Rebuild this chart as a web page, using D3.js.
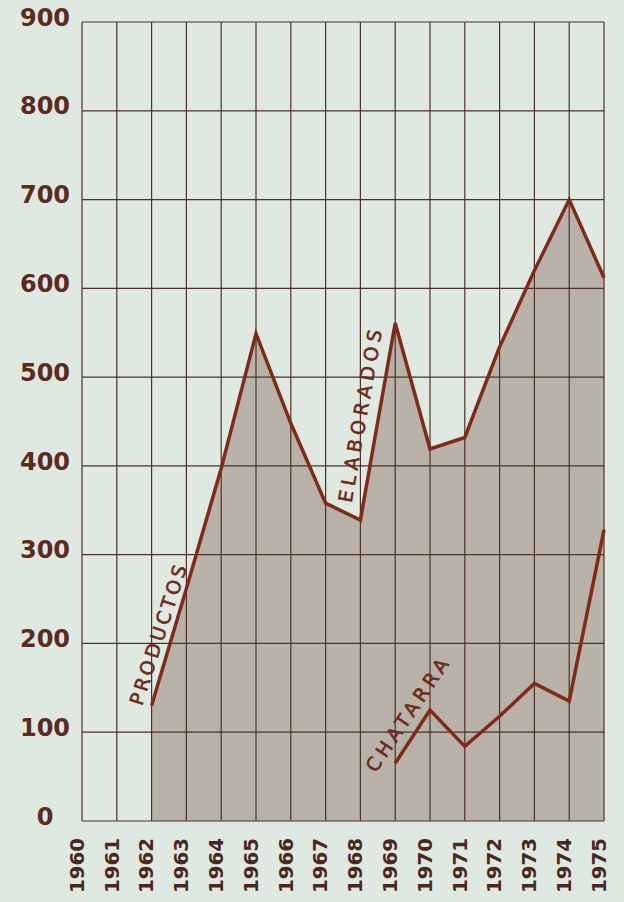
<!DOCTYPE html>
<html>
<head>
<meta charset="utf-8">
<script src="https://cdn.jsdelivr.net/npm/d3@7/dist/d3.min.js"></script>
<style>
  html, body { margin: 0; padding: 0; background: #dfe9e1; }
  svg { display: block; }
</style>
</head>
<body>
<svg id="chart" width="624" height="902"></svg>
<script>
// ---- data ----
const years = [1960, 1961, 1962, 1963, 1964, 1965, 1966, 1967, 1968, 1969, 1970, 1971, 1972, 1973, 1974, 1975];
const yearLabels = ["1960", "1961", "1962", "1963", "1964", "1965", "1966", "1967", "1968", "1969", "1970", "1971", "1972", "1973", "1974", "1975"];
const productosElaborados = [null, null, 130, 262, 397, 549, 448, 358, 339, 561, 419, 432, 534, 620, 700, 612];
const chatarra = [null, null, null, null, null, null, null, null, null, 65, 125, 84, 118, 155, 135, 328];
const yTicks = [0, 100, 200, 300, 400, 500, 600, 700, 800, 900];

// ---- layout ----
const mLeft = 82, mRight = 604, mTop = 22, mBottom = 821;
const svg = d3.select("#chart");
svg.append("rect").attr("width", 624).attr("height", 902).attr("fill", "#dfe9e1");

const x = d3.scaleLinear().domain([1960, 1975]).range([mLeft, mRight]);
const y = d3.scaleLinear().domain([0, 900]).range([mBottom, mTop]);

const lineColor = "#7e2b19";
const gridColor = "#4e3128";

const elab = years.map((yr, i) => ({ yr, v: productosElaborados[i] }));
const chat = years.map((yr, i) => ({ yr, v: chatarra[i] }));

// area fill
const area = d3.area()
  .defined(d => d.v !== null)
  .x(d => x(d.yr)).y0(y(0)).y1(d => y(d.v));
svg.append("path").datum(elab).attr("d", area).attr("fill", "#b9b2a8");

// grid
const g = svg.append("g").attr("stroke", gridColor).attr("stroke-width", 1.2).attr("fill", "none");
g.selectAll("line.v").data(years).join("line").attr("class", "v")
  .attr("x1", d => x(d)).attr("x2", d => x(d))
  .attr("y1", y(900)).attr("y2", y(0));
g.selectAll("line.h").data(yTicks).join("line").attr("class", "h")
  .attr("x1", mLeft).attr("x2", mRight)
  .attr("y1", d => y(d)).attr("y2", d => y(d));

// lines
const line = d3.line().defined(d => d.v !== null).x(d => x(d.yr)).y(d => y(d.v));
svg.append("path").datum(elab).attr("d", line)
  .attr("fill", "none").attr("stroke", lineColor).attr("stroke-width", 3.5).attr("stroke-linejoin", "miter");
svg.append("path").datum(chat).attr("d", line)
  .attr("fill", "none").attr("stroke", lineColor).attr("stroke-width", 3.5).attr("stroke-linejoin", "miter");

// y labels
svg.selectAll("text.ylab").data(yTicks).join("text").attr("class", "ylab")
  .attr("x", 45).attr("y", d => y(d) - 5)
  .attr("dy", "0.36em")
  .attr("text-anchor", "middle")
  .attr("font-family", "DejaVu Sans")
  .attr("font-weight", "bold")
  .attr("font-size", 24)
  .attr("fill", "#5c2a1f")
  .text(d => String(d));

// x labels
svg.selectAll("text.xlab").data(years).join("text").attr("class", "xlab")
  .attr("transform", d => `translate(${x(d) - 5},838) rotate(-90)`)
  .attr("dy", "0.36em")
  .attr("text-anchor", "end")
  .attr("font-family", "DejaVu Sans")
  .attr("font-weight", "bold")
  .attr("font-size", 19)
  .attr("textLength", 55)
  .attr("lengthAdjust", "spacingAndGlyphs")
  .attr("fill", "#4a2820")
  .text((d, i) => yearLabels[i]);

// series labels
function label(txt, cx, cy, angle, size, len) {
  svg.append("text")
    .attr("transform", `translate(${cx},${cy}) rotate(${angle})`)
    .attr("text-anchor", "middle")
    .attr("dy", "0.36em")
    .attr("font-family", "DejaVu Sans")
    .attr("font-size", size)
    .attr("textLength", len)
    .attr("lengthAdjust", "spacing")
    .attr("fill", "#6e2a1c")
    .attr("stroke", "#6e2a1c")
    .attr("stroke-width", 0.6)
    .text(txt);
}
label("PRODUCTOS", 158, 635, -72, 19, 146);
label("ELABORADOS", 360, 416, -80, 19, 175);
label("CHATARRA", 407, 715, -56, 19, 132);
</script>
</body>
</html>
